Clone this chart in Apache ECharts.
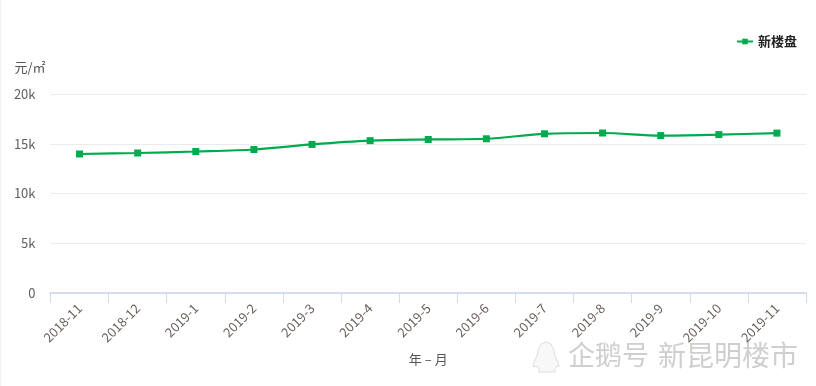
<!DOCTYPE html>
<html><head><meta charset="utf-8">
<style>html,body{margin:0;padding:0;background:#fff}#c{width:816px;height:386px}</style>
<script src="https://cdn.jsdelivr.net/npm/echarts@6/dist/echarts.min.js"></script>
</head><body><div id="c"></div>
<script>
const categories = ['2018-11','2018-12','2019-1','2019-2','2019-3','2019-4','2019-5','2019-6','2019-7','2019-8','2019-9','2019-10','2019-11'];
const seriesName = '新楼盘';
const prices = [13970,14070,14220,14420,14930,15310,15430,15500,16000,16080,15820,15920,16070];
const fontFam = '"Noto Sans CJK SC","Noto Sans",sans-serif';
const chart = echarts.init(document.getElementById('c'), null, {renderer:'canvas'});
chart.setOption({
  animation:false,
  backgroundColor:'#fff',
  legend:{data:[seriesName],top:30,right:14,itemWidth:16,itemHeight:7,itemGap:6,
    textStyle:{color:'#222',fontSize:13,fontWeight:'bold',fontFamily:fontFam}},
  grid:{left:50.5,right:10,top:94,bottom:93,containLabel:false},
  xAxis:{type:'category',data:categories,boundaryGap:true,name:'年 – 月',nameLocation:'middle',nameGap:60,
    nameTextStyle:{color:'#555',fontSize:13,fontFamily:fontFam},
    axisLine:{lineStyle:{color:'#d5dcec',width:2}},
    axisTick:{show:true,length:10,alignWithLabel:false,lineStyle:{color:'#cfd8ec'}},
    axisLabel:{rotate:45,color:'#6b5f5a',fontSize:13,margin:13,interval:0,fontFamily:fontFam}},
  yAxis:{type:'value',min:0,max:20000,interval:5000,name:'元/㎡',nameGap:20,nameLocation:'end',
    nameTextStyle:{color:'#555',fontSize:13,fontFamily:fontFam,align:'right',padding:[0,5,0,0]},
    axisLine:{show:false},axisTick:{show:false},
    splitLine:{lineStyle:{color:'#ebebeb',width:1}},
    axisLabel:{color:'#5f5f5f',fontSize:13,margin:15,fontFamily:fontFam,
      formatter:v=>v===0?'0':(v/1000)+'k'}},
  series:[{name:seriesName,type:'line',data:prices,smooth:0.3,symbol:'rect',symbolSize:7,
    lineStyle:{color:'#00ab4e',width:2.2},itemStyle:{color:'#00ab4e'}}],
  graphic:[
    {type:'rect',shape:{x:0,y:0,width:1,height:386},style:{fill:'#f1f1f1'},silent:true},
    {type:'text',left:568,top:341,silent:true,style:{text:'企鹅号',fill:'#cfcfcf',font:'normal 27px "Noto Sans CJK SC"'}},
    {type:'text',left:658,top:341,silent:true,style:{text:'新昆明楼市',fill:'#cfcfcf',font:'normal 28px "Noto Sans CJK SC"'}},
    {type:'polygon',silent:true,shape:{points:[[546,342],[541,344],[538,350],[537,356],[534,362],[533,367],[537,366],[540,370],[538,372],[556,372],[554,370],[557,366],[559,367],[558,362],[555,356],[554,350],[551,344]]},
     style:{fill:'#f8f8f8',stroke:'#dedede',lineWidth:1}}
  ]
});
</script></body></html>
